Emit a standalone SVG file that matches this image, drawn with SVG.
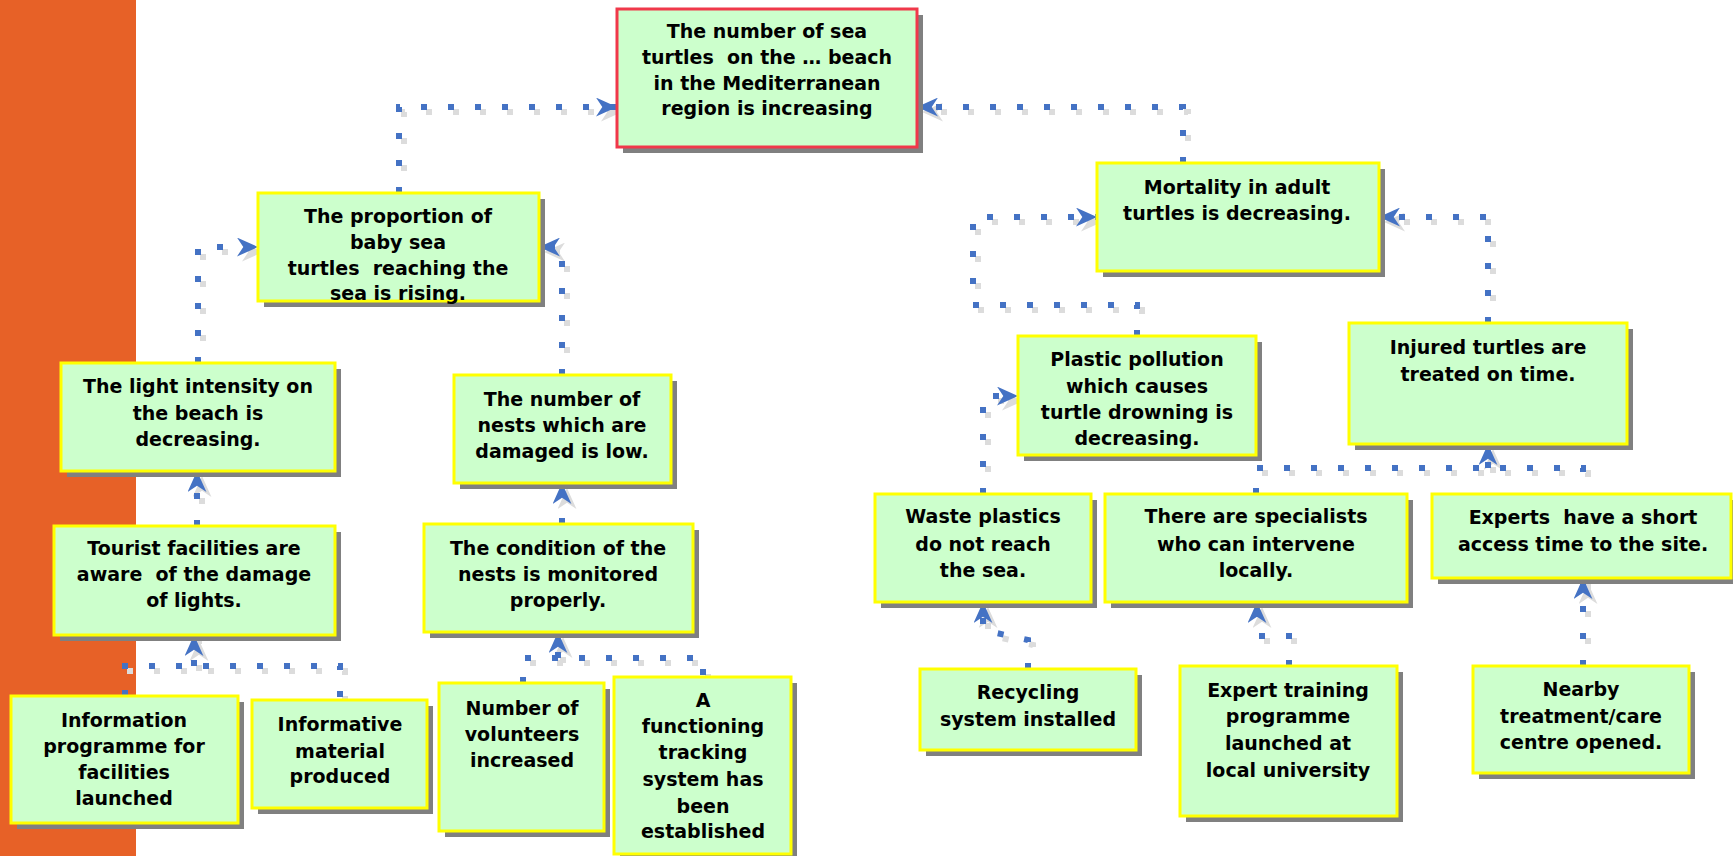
<svg xmlns="http://www.w3.org/2000/svg" width="1733" height="856" viewBox="0 0 1733 856">
<style>
.sh{fill:#808080}
.bx{fill:#ccffcc;stroke:#ffff00;stroke-width:3}
.top{fill:#ccffcc;stroke:#f0384a;stroke-width:3}
text{font-family:"DejaVu Sans","Liberation Sans",sans-serif;font-weight:bold;font-size:19px;fill:#000;text-anchor:middle;white-space:pre}
.c{fill:none;stroke:#4472c4;stroke-width:6;stroke-dasharray:6 21}
.cs{fill:none;stroke:#dcdcdc;stroke-width:6;stroke-dasharray:6 21}
.a{marker-end:url(#ab)}
.as{marker-end:url(#ag)}
</style>
<defs>
<marker id="ab" viewBox="0 0 20 18" refX="20" refY="9" markerWidth="21" markerHeight="19" markerUnits="userSpaceOnUse" orient="auto">
<path d="M20,9 L0,0 L6,9 L0,18 Z" fill="#4472c4"/>
</marker>
<marker id="ag" viewBox="0 0 20 18" refX="20" refY="9" markerWidth="21" markerHeight="19" markerUnits="userSpaceOnUse" orient="auto">
<path d="M20,9 L0,0 L6,9 L0,18 Z" fill="#dcdcdc"/>
</marker>
</defs>
<rect x="0" y="0" width="1733" height="856" fill="#ffffff"/>
<rect x="0" y="0" width="136" height="856" fill="#e76127"/>

<g id="connectors">
<g transform="translate(5,5)">
<path class="cs as" d="M399,193 V107 H617"/>
<path class="cs as" d="M1183,163 V107 H917"/>
<path class="cs as" d="M198,363 V247 H258"/>
<path class="cs as" d="M562,375 V247 H539"/>
<path class="cs as" d="M197,526 V471"/>
<path class="cs as" d="M562,524 V483"/>
<path class="cs" d="M125,696 V666 H340 V700"/>
<path class="cs as" d="M194,666 V635"/>
<path class="cs" d="M523,683 V658 H703 V677"/>
<path class="cs as" d="M558,658 V632"/>
<path class="cs as" d="M1137,336 V305 H973 V217 H1097"/>
<path class="cs as" d="M1488,323 V217 H1379"/>
<path class="cs as" d="M983,494 V396 H1018"/>
<path class="cs" d="M1256,494 V468 H1583 V494"/>
<path class="cs as" d="M1488,468 V444"/>
<path class="cs as" d="M1028,669 V640 L983,630 V602"/>
<path class="cs as" d="M1289,666 V636 H1257 V602"/>
<path class="cs as" d="M1583,666 V578"/>
</g>
<path class="c a" d="M399,193 V107 H617"/>
<path class="c a" d="M1183,163 V107 H917"/>
<path class="c a" d="M198,363 V247 H258"/>
<path class="c a" d="M562,375 V247 H539"/>
<path class="c a" d="M197,526 V471"/>
<path class="c a" d="M562,524 V483"/>
<path class="c" d="M125,696 V666 H340 V700"/>
<path class="c a" d="M194,666 V635"/>
<path class="c" d="M523,683 V658 H703 V677"/>
<path class="c a" d="M558,658 V632"/>
<path class="c a" d="M1137,336 V305 H973 V217 H1097"/>
<path class="c a" d="M1488,323 V217 H1379"/>
<path class="c a" d="M983,494 V396 H1018"/>
<path class="c" d="M1256,494 V468 H1583 V494"/>
<path class="c a" d="M1488,468 V444"/>
<path class="c a" d="M1028,669 V640 L983,630 V602"/>
<path class="c a" d="M1289,666 V636 H1257 V602"/>
<path class="c a" d="M1583,666 V578"/>
</g>

<g id="n-top">
<rect class="sh" x="623" y="15" width="300" height="138"/>
<rect class="top" x="617" y="9" width="300" height="138"/>
<text x="767" y="38">The number of sea</text>
<text x="767" y="64">turtles  on the … beach</text>
<text x="767" y="90">in the Mediterranean</text>
<text x="767" y="115">region is increasing</text>
</g>

<g id="n-proportion">
<rect class="sh" x="264" y="199" width="281" height="108"/>
<rect class="bx" x="258" y="193" width="281" height="108"/>
<text x="398" y="223">The proportion of</text>
<text x="398" y="249">baby sea</text>
<text x="398" y="275">turtles  reaching the</text>
<text x="398" y="300">sea is rising.</text>
</g>

<g id="n-light">
<rect class="sh" x="67" y="369" width="274" height="108"/>
<rect class="bx" x="61" y="363" width="274" height="108"/>
<text x="198" y="393">The light intensity on</text>
<text x="198" y="420">the beach is</text>
<text x="198" y="446">decreasing.</text>
</g>

<g id="n-tourist">
<rect class="sh" x="60" y="532" width="281" height="109"/>
<rect class="bx" x="54" y="526" width="281" height="109"/>
<text x="194" y="555">Tourist facilities are</text>
<text x="194" y="581">aware  of the damage</text>
<text x="194" y="607">of lights.</text>
</g>

<g id="n-nests">
<rect class="sh" x="460" y="381" width="217" height="108"/>
<rect class="bx" x="454" y="375" width="217" height="108"/>
<text x="562" y="406">The number of</text>
<text x="562" y="432">nests which are</text>
<text x="562" y="458">damaged is low.</text>
</g>

<g id="n-condition">
<rect class="sh" x="430" y="530" width="269" height="108"/>
<rect class="bx" x="424" y="524" width="269" height="108"/>
<text x="558" y="555">The condition of the</text>
<text x="558" y="581">nests is monitored</text>
<text x="558" y="607">properly.</text>
</g>

<g id="n-info">
<rect class="sh" x="17" y="702" width="227" height="127"/>
<rect class="bx" x="11" y="696" width="227" height="127"/>
<text x="124" y="727">Information</text>
<text x="124" y="753">programme for</text>
<text x="124" y="779">facilities</text>
<text x="124" y="805">launched</text>
</g>

<g id="n-informative">
<rect class="sh" x="258" y="706" width="175" height="108"/>
<rect class="bx" x="252" y="700" width="175" height="108"/>
<text x="340" y="731">Informative</text>
<text x="340" y="758">material</text>
<text x="340" y="783">produced</text>
</g>

<g id="n-volunteers">
<rect class="sh" x="445" y="689" width="165" height="148"/>
<rect class="bx" x="439" y="683" width="165" height="148"/>
<text x="522" y="715">Number of</text>
<text x="522" y="741">volunteers</text>
<text x="522" y="767">increased</text>
</g>

<g id="n-tracking">
<rect class="sh" x="620" y="683" width="177" height="177"/>
<rect class="bx" x="614" y="677" width="177" height="177"/>
<text x="703" y="707">A</text>
<text x="703" y="733">functioning</text>
<text x="703" y="759">tracking</text>
<text x="703" y="786">system has</text>
<text x="703" y="813">been</text>
<text x="703" y="838">established</text>
</g>

<g id="n-mortality">
<rect class="sh" x="1103" y="169" width="282" height="108"/>
<rect class="bx" x="1097" y="163" width="282" height="108"/>
<text x="1237" y="194">Mortality in adult</text>
<text x="1237" y="220">turtles is decreasing.</text>
</g>

<g id="n-plastic">
<rect class="sh" x="1024" y="342" width="238" height="119"/>
<rect class="bx" x="1018" y="336" width="238" height="119"/>
<text x="1137" y="366">Plastic pollution</text>
<text x="1137" y="393">which causes</text>
<text x="1137" y="419">turtle drowning is</text>
<text x="1137" y="445">decreasing.</text>
</g>

<g id="n-injured">
<rect class="sh" x="1355" y="329" width="278" height="121"/>
<rect class="bx" x="1349" y="323" width="278" height="121"/>
<text x="1488" y="354">Injured turtles are</text>
<text x="1488" y="381">treated on time.</text>
</g>

<g id="n-waste">
<rect class="sh" x="881" y="500" width="216" height="108"/>
<rect class="bx" x="875" y="494" width="216" height="108"/>
<text x="983" y="523">Waste plastics</text>
<text x="983" y="551">do not reach</text>
<text x="983" y="577">the sea.</text>
</g>

<g id="n-specialists">
<rect class="sh" x="1111" y="500" width="302" height="108"/>
<rect class="bx" x="1105" y="494" width="302" height="108"/>
<text x="1256" y="523">There are specialists</text>
<text x="1256" y="551">who can intervene</text>
<text x="1256" y="577">locally.</text>
</g>

<g id="n-experts">
<rect class="sh" x="1438" y="500" width="299" height="84"/>
<rect class="bx" x="1432" y="494" width="299" height="84"/>
<text x="1583" y="524">Experts  have a short</text>
<text x="1583" y="551">access time to the site.</text>
</g>

<g id="n-recycling">
<rect class="sh" x="926" y="675" width="216" height="81"/>
<rect class="bx" x="920" y="669" width="216" height="81"/>
<text x="1028" y="699">Recycling</text>
<text x="1028" y="726">system installed</text>
</g>

<g id="n-training">
<rect class="sh" x="1186" y="672" width="217" height="150"/>
<rect class="bx" x="1180" y="666" width="217" height="150"/>
<text x="1288" y="697">Expert training</text>
<text x="1288" y="723">programme</text>
<text x="1288" y="750">launched at</text>
<text x="1288" y="777">local university</text>
</g>

<g id="n-nearby">
<rect class="sh" x="1479" y="672" width="216" height="107"/>
<rect class="bx" x="1473" y="666" width="216" height="107"/>
<text x="1581" y="696">Nearby</text>
<text x="1581" y="723">treatment/care</text>
<text x="1581" y="749">centre opened.</text>
</g>
</svg>
